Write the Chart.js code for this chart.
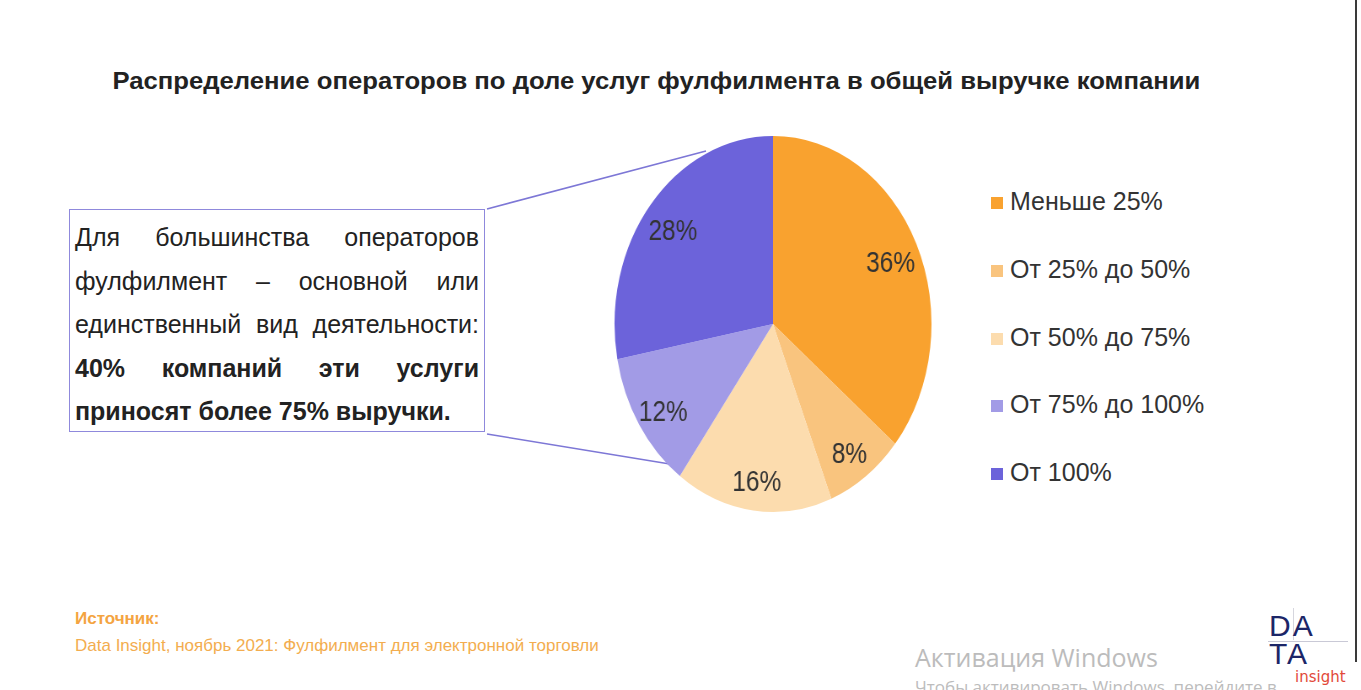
<!DOCTYPE html>
<html lang="ru">
<head>
<meta charset="utf-8">
<title>Распределение операторов по доле услуг фулфилмента</title>
<script src="https://cdn.jsdelivr.net/npm/chart.js@4.4.0/dist/chart.umd.min.js"></script>
<style>
    html, body { margin: 0; padding: 0; background: #fff; }
    body { width: 1361px; height: 690px; position: relative; overflow: hidden; font-family: "Liberation Sans", Arial, sans-serif; }
    #title { position: absolute; left: 0; width: 1312px; top: 68px; text-align: center; font-weight: bold; font-size: 23px; color: #222; white-space: nowrap; }
    #title span { display: inline-block; transform-origin: center; }
    #note { position: absolute; left: 69px; top: 209px; width: 416px; height: 223px; border: 1.5px solid #8f89dc; box-sizing: border-box; padding: 6px 5px 0 5px; font-size: 25px; color: #222; }
    #note div { height: 43.5px; line-height: 43.5px; text-align: justify; text-align-last: justify; white-space: nowrap; }
    #note div.last { text-align-last: left; }
    #note b { font-weight: bold; }
    #links { position: absolute; left: 0; top: 0; }
    #pieWrap { position: absolute; left: 583px; top: 134px; width: 380px; height: 380px; transform: scaleX(0.843); transform-origin: 190px 190px; }
    #legend { position: absolute; left: 991px; top: 0; }
    .item { position: absolute; left: 0; white-space: nowrap; font-size: 25px; color: #333; height: 30px; line-height: 30px; }
    .item i { display: inline-block; width: 12px; height: 12px; margin-right: 7px; vertical-align: 1px; }
    #src1 { position: absolute; left: 75px; top: 609px; font-size: 17px; font-weight: bold; color: #f4a441; }
    #src2 { position: absolute; left: 75px; top: 636px; font-size: 17px; color: #f3ad4f; }
    #win1 { position: absolute; left: 915px; top: 640px; font-family: "Open Sans", "Noto Sans", sans-serif; font-size: 25px; color: #bcbcbc; white-space: nowrap; }
    #win2 { position: absolute; left: 915px; top: 675px; font-family: "Open Sans", "Noto Sans", sans-serif; font-size: 17px; color: #bcbcbc; white-space: nowrap; }
    #rborder { position: absolute; left: 1355px; top: 0; width: 2px; height: 662px; background: #3a3a3a; }
    #logo { position: absolute; left: 1266px; top: 608px; width: 84px; height: 82px; }
    #logo .l { position: absolute; left: 3px; top: 4px; font-family: "Liberation Sans", sans-serif; font-size: 30px; color: #1c2668; letter-spacing: 2px; line-height: 28px; }
    #logo .ins { position: absolute; left: 29px; top: 60px; font-family: "DejaVu Sans", sans-serif; font-size: 15px; color: #e2483a; }
    #logo .h { position: absolute; left: 2px; top: 33px; width: 80px; height: 1px; background: #c9c9d6; }
    #logo .v { position: absolute; left: 27px; top: 0; width: 1px; height: 32px; background: #d6d6de; }
</style>
</head>
<body>
<div id="title"><span>Распределение операторов по доле услуг фулфилмента в общей выручке компании</span></div>

<svg id="links" width="1361" height="690">
    <line x1="487" y1="209" x2="706" y2="151" stroke="#7d77d6" stroke-width="1.6"/>
    <line x1="487" y1="434" x2="682" y2="466" stroke="#7d77d6" stroke-width="1.6"/>
</svg>

<div id="note">
    <div>Для большинства операторов</div>
    <div>фулфилмент – основной или</div>
    <div>единственный вид деятельности:</div>
    <div><b>40% компаний эти услуги</b></div>
    <div class="last"><b>приносят более 75% выручки.</b></div>
</div>

<div id="pieWrap"><canvas id="pie" width="380" height="380"></canvas></div>
<div id="legend"></div>

<div id="src1">Источник:</div>
<div id="src2">Data Insight, ноябрь 2021: Фулфилмент для электронной торговли</div>

<div id="win1">Активация Windows</div>
<div id="win2">Чтобы активировать Windows, перейдите в</div>
<div id="rborder"></div>

<div id="logo">
    <div class="v"></div>
    <div class="h"></div>
    <div class="l">DA<br>TA</div>
    <div class="ins">insight</div>
</div>

<script>
// data
const categories = ['Меньше 25%', 'От 25% до 50%', 'От 50% до 75%', 'От 75% до 100%', 'От 100%'];
const shares = [36, 8, 16, 12, 28];
const sliceColors = ['#f9a22f', '#f9c47e', '#fcdcae', '#a29be6', '#6c63da'];

// legend built from the same arrays
const legendBox = document.getElementById('legend');
categories.forEach(function(name, i) {
    const row = document.createElement('div');
    row.className = 'item';
    row.style.top = (186 + i * 67.8) + 'px';
    row.innerHTML = '<i style="background:' + sliceColors[i] + '"></i>' + name;
    legendBox.appendChild(row);
});

// percent labels inside the slices
const sliceLabels = {
    id: 'sliceLabels',
    afterDatasetsDraw(chart) {
        const ctx = chart.ctx;
        const meta = chart.getDatasetMeta(0);
        ctx.save();
        ctx.font = '29px "Liberation Sans", Arial, sans-serif';
        ctx.fillStyle = '#333';
        ctx.textAlign = 'center';
        ctx.textBaseline = 'middle';
        meta.data.forEach(function(arc, i) {
            const p = arc.getProps(['x', 'y', 'startAngle', 'endAngle', 'outerRadius'], true);
            const mid = (p.startAngle + p.endAngle) / 2;
            const r = p.outerRadius * 0.82;
            ctx.fillText(shares[i] + '%', p.x + Math.cos(mid) * r, p.y + Math.sin(mid) * r + 6);
        });
        ctx.restore();
    }
};

new Chart(document.getElementById('pie'), {
    type: 'pie',
    data: {
        labels: categories,
        datasets: [{
            data: shares,
            backgroundColor: sliceColors,
            borderWidth: 0
        }]
    },
    options: {
        responsive: false,
        animation: false,
        layout: { padding: 2 },
        plugins: {
            legend: { display: false },
            tooltip: { enabled: false }
        }
    },
    plugins: [sliceLabels]
});

// squeeze the title to the width it has in the original slide
const t = document.querySelector('#title span');
t.style.transform = 'scaleX(' + (1088 / t.offsetWidth) + ')';
</script>
</body>
</html>
